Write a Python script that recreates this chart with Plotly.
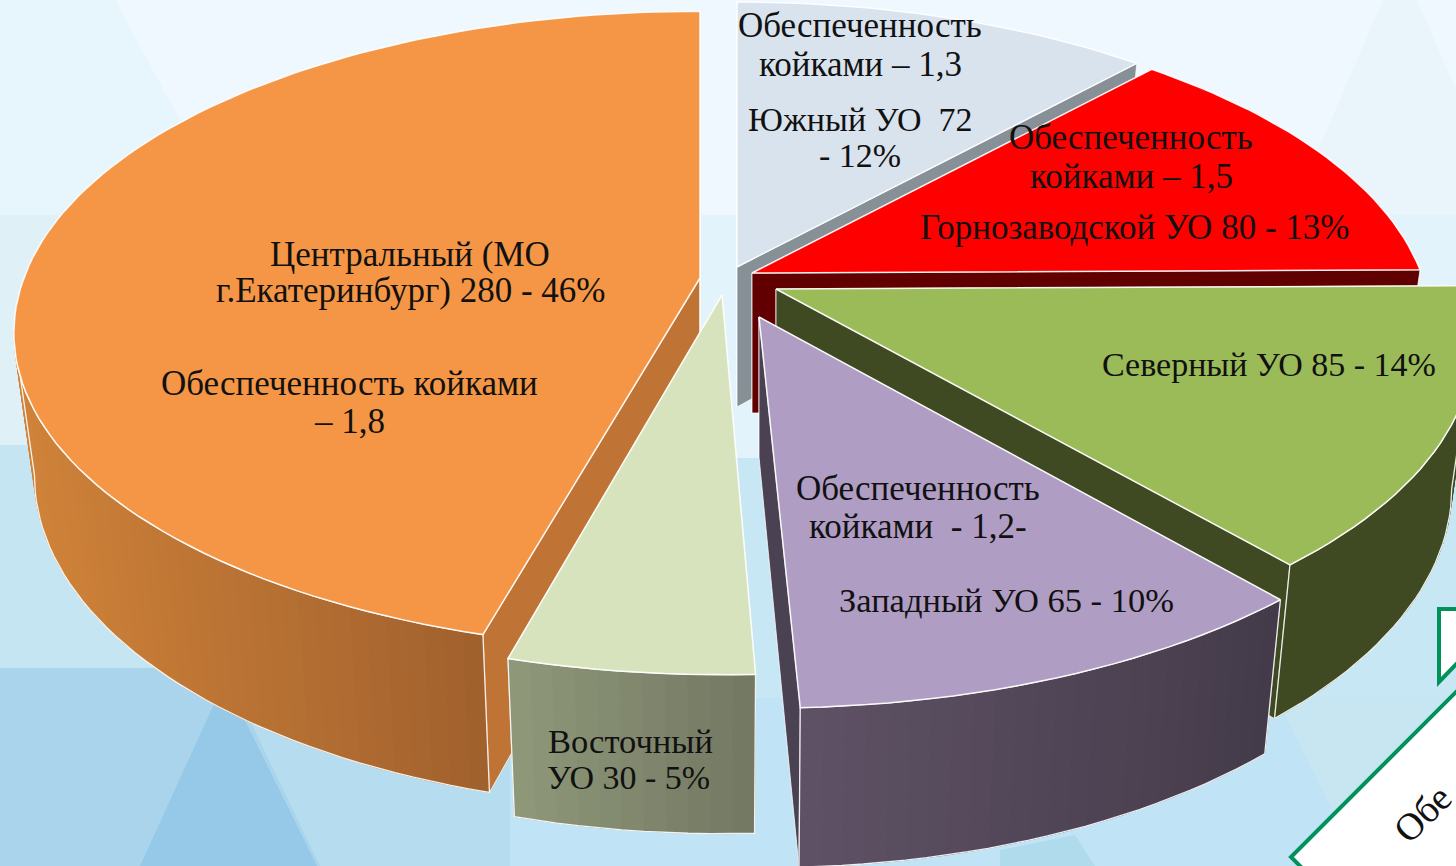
import math
import plotly.graph_objects as go

# ---------- data ----------
regions = ["Южный УО", "Горнозаводской УО", "Северный УО", "Западный УО", "Восточный УО", "Центральный (МО г.Екатеринбург)"]
patients = [72, 80, 85, 65, 30, 280]
percents = [12, 13, 14, 10, 5, 46]
beds = [1.3, 1.5, None, 1.2, None, 1.8]

# ---------- style / layout constants ----------
W, H = 1456, 866
A, B, K = 676.0, 314.0, 0.173   # perspective ellipse
XS, DROP, DROPS = 0.970, 140.0, 0.05  # extrusion
FONT = "Liberation Serif"
INK = "#111111"

STYLE = [
    dict(ax=737, ay=267, r=0.99, top="#D9E3EE", cut="#878F97", wall=None),
    dict(ax=752, ay=273, r=0.99, top="#FF0000", cut="#600000", wall=None),
    dict(ax=776, ay=289, r=1.015, ry=0.99, sil="max", top="#9BBB59", cut="#3F4A22", wall=("#3F4A22", "#3F4A22")),
    dict(ax=759, ay=317, r=1.03, rx=0.99, sh=0.018, top="#B09DC4", cut="#4A4152", wall=("#5F5266", "#443B4A")),
    dict(ax=722, ay=295, r=1.00, top="#D7E3BC", cut="#7F8670", wall=("#8F9879", "#727862")),
    dict(ax=700, ay=278, r=1.00, ry=0.99, k=0.165, sh=-0.014, sil="min", top="#F49646", cut="#BF7435", wall=("#D08339", "#A0602D")),
]
DRAW_ORDER = [0, 1, 2, 5, 4, 3]

LABELS = [
    ("Обеспеченность", 860, 25, 35), ("койками – 1,3", 860, 64, 35), ("Южный УО  72", 860, 119, 34), ("- 12%", 860, 155, 34),
    ("Обеспеченность", 1131, 137, 35), ("койками – 1,5", 1131, 176, 35), ("Горнозаводской УО 80 - 13%", 1134, 227, 35),
    ("Северный УО 85 - 14%", 1269, 364, 34),
    ("Обеспеченность", 918, 488, 35), ("койками  - 1,2-", 918, 526, 35), ("Западный УО 65 - 10%", 1006, 600, 34.5),
    ("Восточный", 630, 741, 34.5), ("УО 30 - 5%", 628, 777, 34),
    ("Центральный (МО", 410, 254, 35), ("г.Екатеринбург) 280 - 46%", 410, 290, 35),
    ("Обеспеченность койками", 349, 383, 35), ("– 1,8", 349, 421, 35),
]


def hex2rgb(c):
    return tuple(int(c[i:i + 2], 16) for i in (1, 3, 5))


def mix(c1, c2, t):
    t = max(0, min(1, t))
    a, b = hex2rgb(c1), hex2rgb(c2)
    return "rgb(%d,%d,%d)" % tuple(round(a[i] + (b[i] - a[i]) * t) for i in range(3))


def top_pt(st, deg):
    th = math.radians(deg)
    X, Y = math.sin(th), math.cos(th)
    s = 1 / (1 + st.get("k", K) * Y)
    py = st["ay"] - st["r"] * st.get("ry", 1) * B * Y * s
    px = st["ax"] + st["r"] * st.get("rx", 1) * A * X * s + st.get("sh", 0) * max(0, py - st["ay"])
    return px, py


def low_pt(st, p):
    return st["ax"] + (p[0] - st["ax"]) * XS, p[1] + DROP + (p[1] - st["ay"]) * DROPS


def poly(fig, pts, fill=None, line=None, lw=1.0, close=True):
    xs = [p[0] for p in pts] + ([pts[0][0]] if close else [])
    ys = [p[1] for p in pts] + ([pts[0][1]] if close else [])
    fig.add_trace(go.Scatter(
        x=xs, y=ys, mode="lines", hoverinfo="skip", showlegend=False,
        fill="toself" if fill else "none", fillcolor=fill,
        line=dict(color=line if line else (fill or "rgba(0,0,0,0)"), width=lw),
    ))


fig = go.Figure()

total = sum(patients)
edges = [0.0]
for v in patients:
    edges.append(edges[-1] + 360.0 * v / total)

for i in DRAW_ORDER:
    st = STYLE[i]
    a0, a1 = edges[i], edges[i + 1]
    n = max(2, int((a1 - a0) / 1.5))
    angs = [a0 + (a1 - a0) * j / n for j in range(n + 1)]
    arc = [top_pt(st, a) for a in angs]
    low = [low_pt(st, p) for p in arc]
    apex = (st["ax"], st["ay"])
    apex_low = low_pt(st, apex)

    # flat cut faces
    for p, q in ((arc[0], low[0]), (arc[-1], low[-1])):
        poly(fig, [apex, p, q, apex_low], fill=st["cut"], line="rgba(255,255,255,0.75)", lw=1)

    # curved outer wall, strip by strip for the horizontal gradient
    if st["wall"]:
        first, last = 0, n
        sil = st.get("sil")
        if sil == "min":   # wall ends where it reaches the left silhouette
            last = min(range(n + 1), key=lambda j: low[j][0])
        elif sil == "max":  # wall starts at the right silhouette
            first = max(range(n + 1), key=lambda j: low[j][0])
        xmin = min(low[j][0] for j in range(first, last + 1))
        xmax = max(low[j][0] for j in range(first, last + 1))
        for j in range(first, last):
            t = (0.5 * (low[j][0] + low[j + 1][0]) - xmin) / max(1, xmax - xmin)
            col = mix(st["wall"][0], st["wall"][1], t)
            poly(fig, [arc[j], arc[j + 1], low[j + 1], low[j]], fill=col, line=col, lw=1)
        outline = [arc[k] for k in range(first, last + 1)] + [low[k] for k in range(last, first - 1, -1)]
        poly(fig, outline, line="rgba(255,255,255,0.9)", lw=1.3)

    # top face
    poly(fig, [apex] + arc, fill=st["top"], line="rgba(255,255,255,0.9)", lw=1.5)

GREEN = "#00925A"
shapes = []


def bg_rect(x0, y0, x1, y1, c):
    shapes.append(dict(type="rect", xref="x", yref="y", x0=x0, y0=y0, x1=x1, y1=y1,
                       fillcolor=c, line=dict(width=0), layer="below"))


def bg_path(path, c):
    shapes.append(dict(type="path", xref="x", yref="y", layer="below", line=dict(width=0),
                       fillcolor=c, path=path))


bg_rect(0, 0, W, 215, "#E7F5FD")
bg_path(f"M 115 0 L {W} 0 L {W} 215 L 231 215 Z", "#EFF8FE")
bg_path(f"M 1383 0 L 1417 0 L {W} 90 L {W} 215 L 1290 215 Z", "#E9F5FB")
bg_rect(0, 215, W, 445, "#DFF1F7")
bg_rect(200, 215, W, 458, "#E2F3FB")
bg_rect(0, 445, 200, 700, "#C6E5F3")
bg_rect(200, 458, W, 700, "#C8E7F5")
bg_rect(0, 668, 510, H, "#A9D4EB")
bg_rect(480, 698, W, H, "#C0E4F6")
bg_path(f"M 1285 698 L {W} 698 L {W} {H} L 1360 {H} L 1285 715 Z", "#C7E6F2")
bg_path(f"M 1075 835 L 1095 {H} L 1000 {H} L 1000 850 Z", "#B0DBEC")
bg_path(f"M 240 700 L 510 700 L 510 {H} L 320 {H} Z", "#B6DCEF")
bg_path(f"M 225 680 L 140 {H} L 317 {H} Z", "#96C8E7")

# call-out pieces
shapes.append(dict(type="path", xref="x", yref="y", layer="above", fillcolor="white",
                   line=dict(color=GREEN, width=4),
                   path="M 1470 609 L 1439 609 L 1439 682 L 1470 650 Z"))
shapes.append(dict(type="path", xref="x", yref="y", layer="above", fillcolor="white",
                   line=dict(color=GREEN, width=4),
                   path="M 1470 678 L 1291 857 L 1312 878 L 1470 878 Z"))

annotations = [
    dict(x=x, y=y, text=t, xref="x", yref="y", showarrow=False, xanchor="center", yanchor="middle",
         font=dict(family=FONT, size=fs, color=INK))
    for t, x, y, fs in LABELS
]
annotations.append(dict(x=1422, y=814, text="Обе", xref="x", yref="y", showarrow=False, textangle=-45,
                        xanchor="center", yanchor="middle",
                        font=dict(family=FONT, size=38, color=INK)))

fig.update_layout(
    width=W, height=H, autosize=False,
    margin=dict(l=0, r=0, t=0, b=0),
    paper_bgcolor="#E7F5FD", plot_bgcolor="rgba(0,0,0,0)",
    xaxis=dict(range=[0, W], visible=False, fixedrange=True),
    yaxis=dict(range=[H, 0], visible=False, fixedrange=True),
    shapes=shapes, annotations=annotations, showlegend=False,
)

fig.write_html("out.html", config={"displayModeBar": False},
               post_script="document.body.style.margin='0';document.body.style.overflow='hidden';")
